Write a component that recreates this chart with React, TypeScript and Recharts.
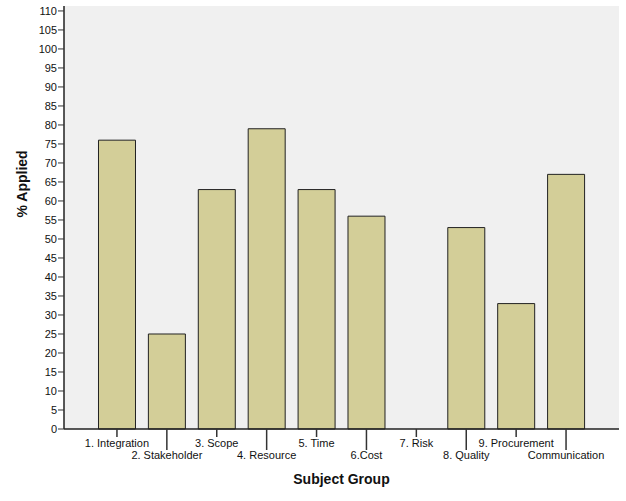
import React from "react";
import { BarChart, Bar, XAxis, YAxis, CartesianGrid } from "recharts";

const groups = [
  "1. Integration",
  "2. Stakeholder",
  "3. Scope",
  "4. Resource",
  "5. Time",
  "6.Cost",
  "7. Risk",
  "8. Quality",
  "9. Procurement",
  "Communication",
];
const applied = [76, 25, 63, 79, 63, 56, 0, 53, 33, 67];
const yTicks = [0, 5, 10, 15, 20, 25, 30, 35, 40, 45, 50, 55, 60, 65, 70, 75, 80, 85, 90, 95, 100, 105, 110];

const data = groups.map((g, i) => ({ group: g, applied: applied[i] }));

const FONT = "'Liberation Sans', Arial, sans-serif";

// SPSS style staggered labels: every second label drops to a second row
const StaggeredTick = (props: any) => {
  const { x, y, payload, index } = props;
  const low = index % 2 === 1;
  return (
    <g>
      <line x1={x} y1={y} x2={x} y2={y + (low ? 21 : 8)} stroke="#333" strokeWidth={1.5} />
      <text
        x={x}
        y={y + (low ? 30 : 18)}
        textAnchor="middle"
        fontSize={11}
        fontFamily={FONT}
        fill="#111"
      >
        {payload.value}
      </text>
    </g>
  );
};

const App: React.FC = () => {
  return (
    <div style={{ position: "absolute", left: 0, top: 0, background: "#fff" }}>
      <BarChart
        width={626}
        height={501}
        data={data}
        margin={{ top: 6, right: 7, left: 0, bottom: 0 }}
        barCategoryGap="13%"
      >
        <CartesianGrid horizontal={false} vertical={false} fill="#F0F0F0" />
        <XAxis
          dataKey="group"
          interval={0}
          height={72}
          padding={{ left: 28, right: 28 }}
          tickSize={0}
          tickMargin={0}
          tick={<StaggeredTick />}
          axisLine={{ stroke: "#222", strokeWidth: 1.5 }}
          label={{
            value: "Subject Group",
            position: "insideBottom",
            offset: 17,
            fill: "#111",
            fontWeight: 700,
            fontSize: 14,
            fontFamily: FONT,
          }}
        />
        <XAxis
          xAxisId="top"
          orientation="top"
          dataKey="group"
          height={0}
          tick={false}
          tickLine={false}
          axisLine={{ stroke: "#777", strokeWidth: 2 }}
        />
        <YAxis
          domain={[0, 111.3]}
          ticks={yTicks}
          interval={0}
          width={64}
          tickSize={6}
          tickMargin={1}
          tickLine={{ stroke: "#333" }}
          axisLine={{ stroke: "#222", strokeWidth: 1.5 }}
          tick={{ fill: "#111", fontSize: 11, fontFamily: FONT }}
          label={{
            value: "% Applied",
            angle: -90,
            position: "insideLeft",
            offset: 22,
            fill: "#111",
            fontWeight: 700,
            fontSize: 14,
            fontFamily: FONT,
          }}
        />
        <YAxis
          yAxisId="right"
          orientation="right"
          width={0}
          tick={false}
          tickLine={false}
          axisLine={{ stroke: "#777", strokeWidth: 2 }}
        />
        <Bar
          dataKey="applied"
          fill="#D3CE98"
          stroke="#222"
          strokeWidth={1}
          isAnimationActive={false}
        />
      </BarChart>
    </div>
  );
};

export default App;
